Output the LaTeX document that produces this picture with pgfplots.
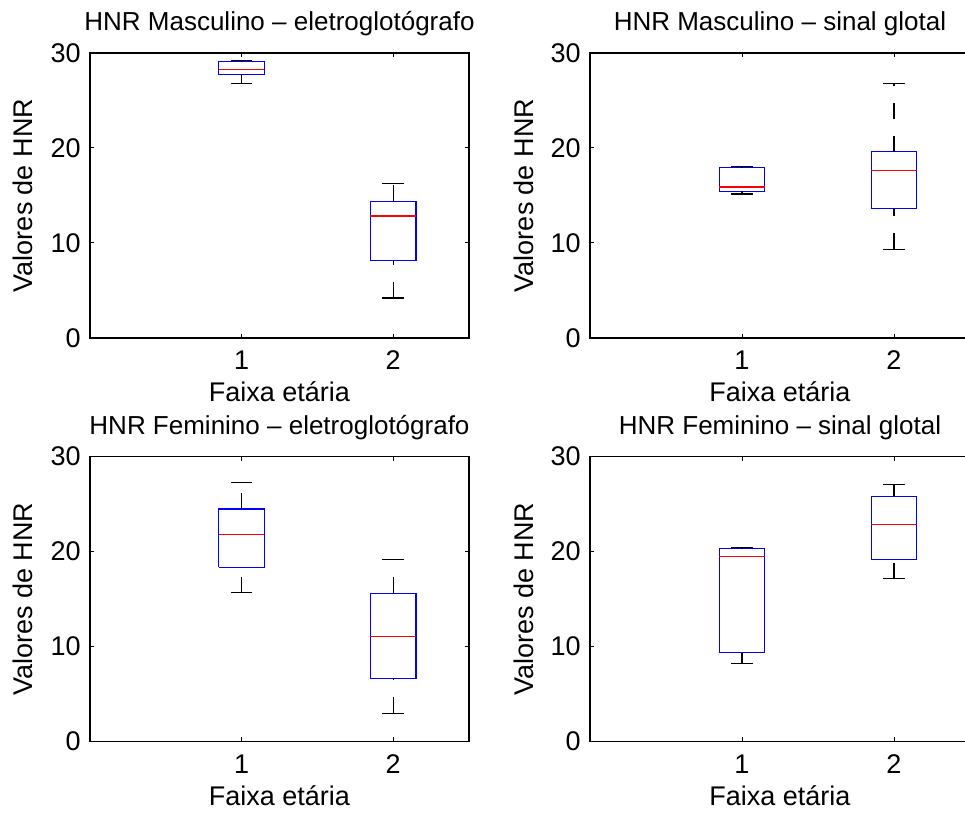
\documentclass[border=0pt]{standalone}
\usepackage{fontspec}
\setmainfont{Liberation Sans}
\usepackage{pgfplots}
\pgfplotsset{compat=1.18}

% One box-and-whisker glyph:
% #1 position, #2 lower whisker, #3 lower quartile, #4 median,
% #5 upper quartile, #6 upper whisker
\newcommand{\hnrbox}[6]{%
  \addplot[blue, line width=0.6pt, line join=miter]
    table[row sep=\\, x expr=#1+\thisrow{dx}, y=y]
    {dx y\\ -0.15 #3\\ 0.15 #3\\ 0.15 #5\\ -0.15 #5\\ -0.15 #3\\};
  \addplot[black, line width=0.6pt, dash pattern=on 8pt off 8.5pt]
    coordinates {(#1,#2) (#1,#3)};
  \addplot[black, line width=0.6pt, dash pattern=on 8pt off 8.5pt]
    coordinates {(#1,#5) (#1,#6)};
  \addplot[black, line width=0.6pt]
    table[row sep=\\, x expr=#1+\thisrow{dx}, y=y]
    {dx y\\ -0.0715 #2\\ 0.0715 #2\\};
  \addplot[black, line width=0.6pt]
    table[row sep=\\, x expr=#1+\thisrow{dx}, y=y]
    {dx y\\ -0.0715 #6\\ 0.0715 #6\\};
  \addplot[red, line width=0.6pt]
    table[row sep=\\, x expr=#1+\thisrow{dx}, y=y]
    {dx y\\ -0.15 #4\\ 0.15 #4\\};
}

\pgfplotsset{
  hnr/.style={
    scale only axis,
    width=189.5pt, height=142.5pt,
    xmin=0, xmax=2.5, ymin=0, ymax=30,
    xtick={1,2}, ytick={0,10,20,30},
    tick align=inside, tick pos=both,
    major tick length=2.2pt,
    axis line style={line width=0.6pt},
    every tick/.style={black, line width=0.5pt},
    /pgf/number format/assume math mode=true,
    tick label style={font=\fontsize{13.5}{16}\selectfont},
    label style={font=\fontsize{13.5}{16}\selectfont},
    xticklabel style={anchor=base, yshift=-16pt, inner sep=0pt},
    yticklabel style={anchor=east, inner sep=0pt, xshift=-4.5pt},
    every axis title shift=0pt,
    title style={at={(axis description cs:0.5,1)}, anchor=base, yshift=11pt,
      inner sep=0pt, font=\fontsize{13}{16}\selectfont},
    xlabel style={at={(axis description cs:0.5,0)}, anchor=base, yshift=-31.85pt, inner sep=0pt},
    ylabel style={at={(axis description cs:-0.1504,0.5)}, anchor=base, inner sep=0pt},
    xlabel={Faixa etária},
    ylabel={Valores de HNR},
  },
}

\begin{document}
\begin{tikzpicture}

% male, electroglottograph
\begin{axis}[hnr, at={(45pt,237.5pt)}, anchor=south west,
  title={HNR Masculino – eletroglotógrafo}]
  \hnrbox{1}{26.8}{27.7}{28.25}{29.1}{29.2}
  \hnrbox{2}{4.2}{8.15}{12.85}{14.4}{16.25}
\end{axis}

% male, glottal signal
\begin{axis}[hnr, width=190pt, at={(295pt,237.5pt)}, anchor=south west,
  ylabel style={at={(axis description cs:-0.15,0.5)}},
  title={HNR Masculino – sinal glotal}]
  \hnrbox{1}{15.15}{15.45}{15.9}{17.95}{18.05}
  \hnrbox{2}{9.35}{13.6}{17.6}{19.6}{26.75}
\end{axis}

% female, electroglottograph
\begin{axis}[hnr, at={(45pt,35.65pt)}, anchor=south west,
  title={HNR Feminino – eletroglotógrafo}]
  \hnrbox{1}{15.7}{18.35}{21.85}{24.5}{27.25}
  \hnrbox{2}{3.0}{6.65}{11.05}{15.6}{19.2}
\end{axis}

% female, glottal signal
\begin{axis}[hnr, width=190pt, at={(295pt,35.65pt)}, anchor=south west,
  ylabel style={at={(axis description cs:-0.15,0.5)}},
  title={HNR Feminino – sinal glotal}]
  \hnrbox{1}{8.2}{9.35}{19.5}{20.35}{20.4}
  \hnrbox{2}{17.15}{19.15}{22.9}{25.85}{27.05}
\end{axis}

\pgfresetboundingbox
\useasboundingbox (0pt,0pt) rectangle (482.5pt,406.5pt);
\end{tikzpicture}
\end{document}
